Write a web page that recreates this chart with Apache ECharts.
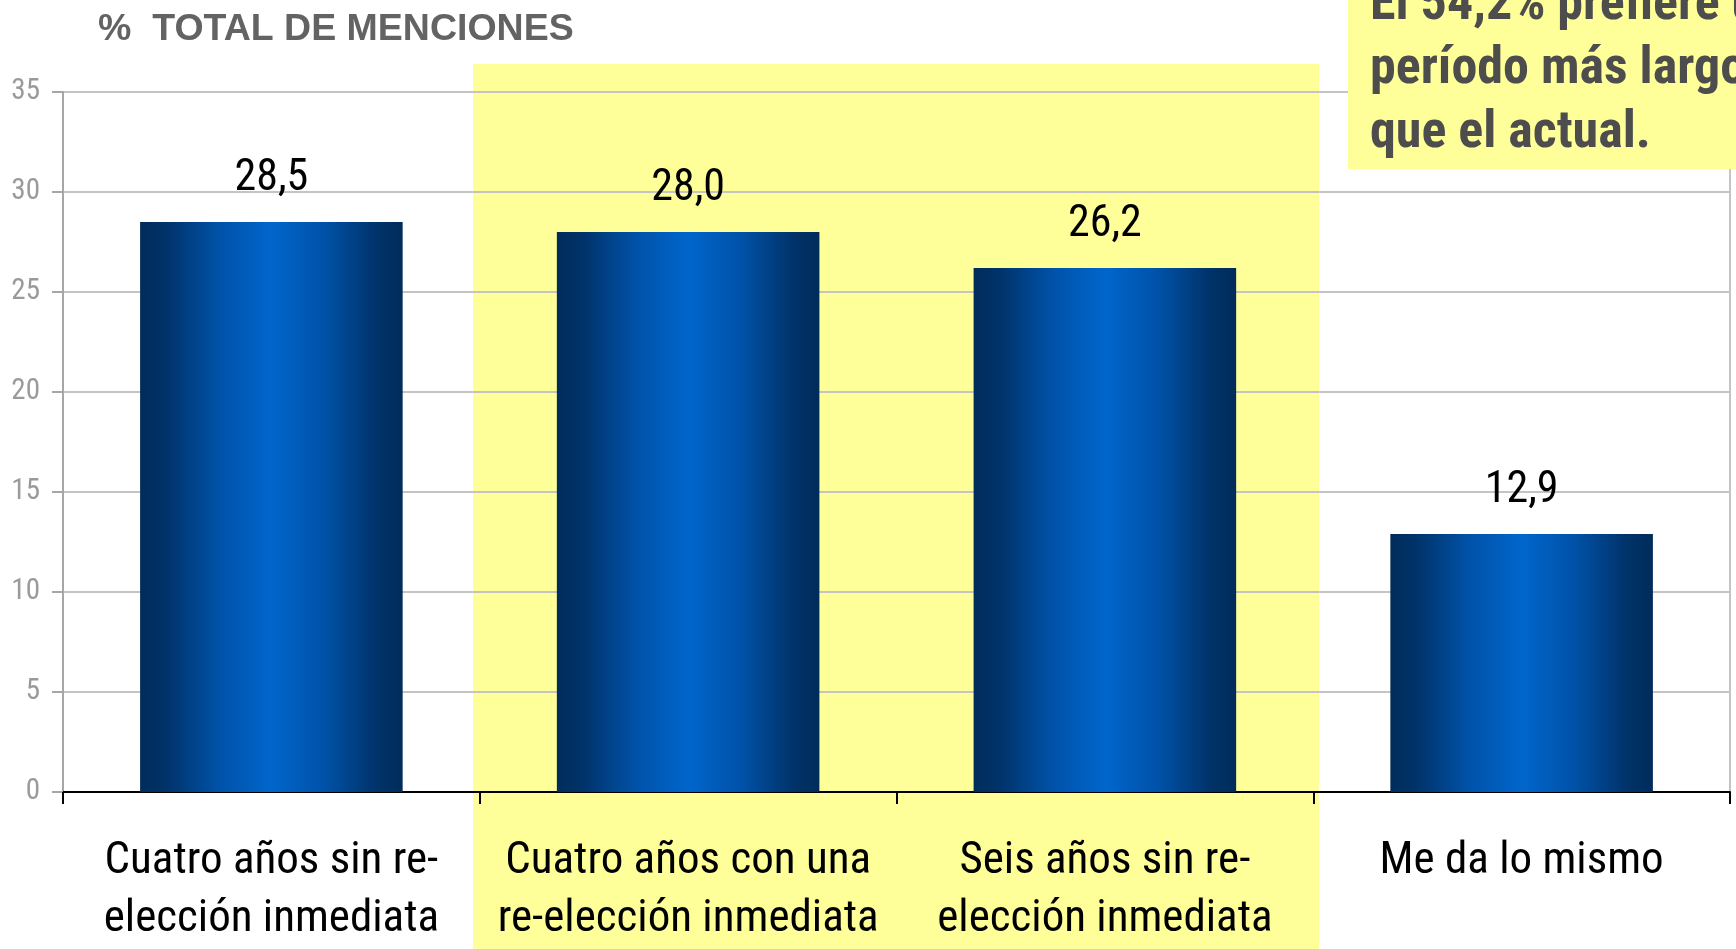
<!DOCTYPE html>
<html>
<head>
<meta charset="utf-8">
<script src="https://cdn.jsdelivr.net/npm/echarts@6/dist/echarts.min.js"></script>
<style>
html,body{margin:0;padding:0;background:#fff;}
#chart{width:1736px;height:949px;}
</style>
</head>
<body>
<div id="chart"></div>
<script>
const categories = [
  'Cuatro años sin re-\nelección inmediata',
  'Cuatro años con una\nre-elección inmediata',
  'Seis años sin re-\nelección inmediata',
  'Me da lo mismo'
];
const values = [28.5, 28.0, 26.2, 12.9];
const yTicks = { min: 0, max: 35, interval: 5 };
const titleText = '%  TOTAL DE MENCIONES';
const noteText = 'El 54,2% prefiere un\nperíodo más largo\nque el actual.';

const NARROW = "'Roboto Condensed','Liberation Sans Narrow','Arial Narrow',sans-serif";
const SANS = "'Liberation Sans',Arial,sans-serif";

const chart = echarts.init(document.getElementById('chart'), null, {renderer: 'canvas'});

const barGradient = new echarts.graphic.LinearGradient(0, 0, 1, 0, [
  {offset: 0, color: '#002c5a'},
  {offset: 0.1, color: '#00336a'},
  {offset: 0.3, color: '#0052a8'},
  {offset: 0.5, color: '#0066cc'},
  {offset: 0.7, color: '#0052a8'},
  {offset: 0.9, color: '#00336a'},
  {offset: 1, color: '#002c5a'}
]);

chart.setOption({
  animation: false,
  backgroundColor: '#ffffff',
  grid: {
    left: 63, right: 6, top: 92, bottom: 150,
    show: true, borderColor: '#c4c4c4', borderWidth: 2, backgroundColor: 'transparent',
    containLabel: false
  },
  graphic: {
    elements: [
      {type: 'rect', z: -10, shape: {x: 473, y: 64, width: 846, height: 900}, style: {fill: '#ffff99'}},
      {type: 'text', left: 98, top: 11, style: {text: titleText, font: 'bold 37.5px ' + SANS, fill: '#636363'}},
      {type: 'rect', z: 100, shape: {x: 1348, y: 0, width: 400, height: 169}, style: {fill: '#ffff99'}},
      {type: 'text', z: 101, x: 1370, y: -26, style: {text: noteText, font: 'bold 52px ' + NARROW, fill: '#4d4d4d', lineHeight: 64, textVerticalAlign: 'top'}}
    ]
  },
  xAxis: {
    type: 'category',
    data: categories,
    boundaryGap: true,
    axisLine: {show: true, lineStyle: {color: '#000', width: 2}},
    axisTick: {show: true, length: 12, lineStyle: {color: '#000', width: 2}},
    axisLabel: {interval: 0, margin: 41, color: '#000', fontSize: 45, lineHeight: 58, fontFamily: NARROW},
    splitLine: {show: false}
  },
  yAxis: {
    type: 'value',
    min: yTicks.min, max: yTicks.max, interval: yTicks.interval,
    axisLine: {show: true, lineStyle: {color: '#a6a6a6', width: 2}},
    axisTick: {show: true, length: 11, lineStyle: {color: '#a6a6a6', width: 2}},
    axisLabel: {margin: 23, color: '#9a9a9a', fontSize: 29, fontFamily: NARROW},
    splitLine: {show: true, lineStyle: {color: '#c4c4c4', width: 2}}
  },
  series: [{
    type: 'bar',
    data: values,
    barCategoryGap: '37%',
    itemStyle: {color: barGradient},
    label: {
      show: true, position: 'top', distance: 21,
      color: '#000', fontSize: 44, fontFamily: NARROW,
      formatter: p => p.value.toFixed(1).replace('.', ',')
    }
  }]
});
</script>
</body>
</html>
